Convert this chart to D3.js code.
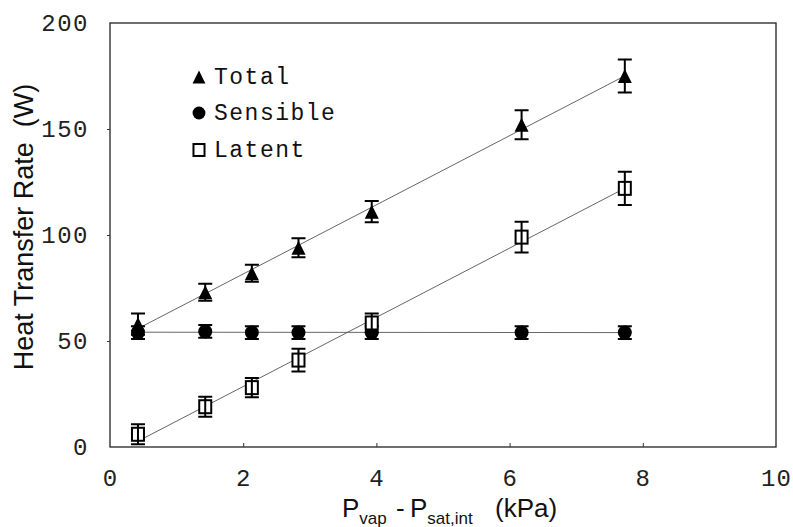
<!DOCTYPE html>
<html>
<head>
<meta charset="utf-8">
<script src="https://cdn.jsdelivr.net/npm/d3@7"></script>
<style>
  html, body { margin: 0; padding: 0; background: #fff; }
  svg { display: block; }
</style>
</head>
<body>
<svg id="chart" width="793" height="527"></svg>
<script>
// Driving pressure difference (kPa)
const pressureDiff = [0.42, 1.43, 2.13, 2.83, 3.93, 6.18, 7.73];
// Heat transfer rates (W) and their uncertainties
const totalRate    = [58, 73, 82, 94, 111, 152, 175];
const totalErr     = [5, 4, 4, 4.5, 5, 6.8, 7.8];
const sensibleRate = [54, 54.5, 54, 54, 54, 54, 54];
const sensibleErr  = [3, 3, 3, 3, 3, 3, 3];
const latentRate   = [6, 19, 28, 41, 58.5, 99, 122];
const latentErr    = [4.7, 4.7, 4.5, 5.4, 4.5, 7.3, 7.8];

const xTicks = [0, 2, 4, 6, 8, 10];
const yTicks = [0, 50, 100, 150, 200];
const legendLabels = ["Total", "Sensible", "Latent"];

const svg = d3.select("#chart");
const plotLeft = 110, plotRight = 776, plotTop = 23, plotBottom = 447;

const x = d3.scaleLinear().domain([0, 10]).range([plotLeft, plotRight]);
const y = d3.scaleLinear().domain([0, 200]).range([plotBottom, plotTop]);

const monoFont = "'Liberation Mono', 'Courier New', monospace";
const sansFont = "'Liberation Sans', Arial, sans-serif";

// Plot frame
svg.append("rect")
  .attr("x", plotLeft).attr("y", plotTop)
  .attr("width", plotRight - plotLeft).attr("height", plotBottom - plotTop)
  .attr("fill", "none").attr("stroke", "#222").attr("stroke-width", 1.3);

// X axis: small inward ticks, monospace labels
const xAxis = svg.append("g")
  .attr("transform", `translate(0,${plotBottom})`)
  .call(d3.axisBottom(x).tickValues(xTicks).tickSize(-4).tickPadding(22)
    .tickFormat(d3.format("d")));
xAxis.select(".domain").remove();
xAxis.selectAll(".tick line").attr("stroke", "#333").attr("stroke-width", 1)
  .filter(d => d === 0 || d === 10).remove();
xAxis.selectAll("text")
  .attr("font-family", monoFont).attr("font-size", 24)
  .attr("fill", "#222").style("letter-spacing", "1px");

// Y axis: small outward ticks
const yAxis = svg.append("g")
  .attr("transform", `translate(${plotLeft},0)`)
  .call(d3.axisLeft(y).tickValues(yTicks).tickSize(3).tickPadding(18)
    .tickFormat(d3.format("d")));
yAxis.select(".domain").remove();
yAxis.selectAll(".tick line").attr("stroke", "#333").attr("stroke-width", 1)
  .filter(d => d === 0 || d === 200).remove();
yAxis.selectAll("text")
  .attr("font-family", monoFont).attr("font-size", 24)
  .attr("fill", "#222").style("letter-spacing", "1.5px");

// Axis titles
svg.append("text")
  .attr("transform", "translate(33,227) rotate(-90)")
  .attr("text-anchor", "middle")
  .attr("font-family", sansFont).attr("font-size", 27).attr("fill", "#111")
  .attr("xml:space", "preserve")
  .text("Heat Transfer Rate  (W)");

const xTitle = svg.append("text")
  .attr("y", 517)
  .attr("font-family", sansFont).attr("font-size", 26).attr("fill", "#111");
xTitle.append("tspan").attr("x", 342).text("P");
xTitle.append("tspan").attr("dy", 7).attr("font-size", 17).text("vap");
xTitle.append("tspan").attr("x", 396).attr("dy", -7).text("-");
xTitle.append("tspan").attr("x", 410).text("P");
xTitle.append("tspan").attr("dy", 7).attr("font-size", 17).text("sat,int");
xTitle.append("tspan").attr("x", 495).attr("dy", -7).text("(kPa)");

// Least-squares fit lines across the measured range
function fitLine(xs, ys) {
  const n = xs.length;
  const mx = d3.mean(xs), my = d3.mean(ys);
  let sxy = 0, sxx = 0;
  for (let i = 0; i < n; i++) {
    sxy += (xs[i] - mx) * (ys[i] - my);
    sxx += (xs[i] - mx) * (xs[i] - mx);
  }
  const b = sxy / sxx, a = my - b * mx;
  const x0 = d3.min(xs), x1 = d3.max(xs);
  return [[x0, a + b * x0], [x1, a + b * x1]];
}

const line = d3.line().x(d => x(d[0])).y(d => y(d[1]));
const seriesList = [
  { name: "Total", values: totalRate, err: totalErr },
  { name: "Sensible", values: sensibleRate, err: sensibleErr },
  { name: "Latent", values: latentRate, err: latentErr }
];

seriesList.forEach(s => {
  svg.append("path")
    .attr("d", line(fitLine(pressureDiff, s.values)))
    .attr("fill", "none").attr("stroke", "#555").attr("stroke-width", 0.9);
});

// Markers
function drawMarker(g, s, cx, cy, scale) {
  if (s.name === "Latent") {
    const w = 12 * scale, h = 13 * scale;
    g.append("rect")
      .attr("x", cx - w / 2).attr("y", cy - h / 2)
      .attr("width", w).attr("height", h)
      .attr("fill", "#fff").attr("stroke", "#000").attr("stroke-width", 2);
  } else if (s.name === "Total") {
    const w = 14 * scale, h = 14 * scale;
    g.append("path")
      .attr("d", `M${cx},${cy - h / 2}L${cx + w / 2},${cy + h / 2}L${cx - w / 2},${cy + h / 2}Z`)
      .attr("fill", "#000");
  } else {
    g.append("circle").attr("cx", cx).attr("cy", cy).attr("r", 7 * scale).attr("fill", "#000");
  }
}

const marks = svg.append("g");
seriesList.forEach(s => {
  const g = marks.append("g");
  s.values.forEach((v, i) => {
    drawMarker(g, s, x(pressureDiff[i]), y(v), 1);
  });
  // Error bars with caps
  s.values.forEach((v, i) => {
    const cx = x(pressureDiff[i]);
    const yHi = y(v + s.err[i]), yLo = y(v - s.err[i]);
    const capW = 7;
    g.append("path")
      .attr("d", `M${cx},${yHi}V${yLo}M${cx - capW},${yHi}H${cx + capW}M${cx - capW},${yLo}H${cx + capW}`)
      .attr("fill", "none").attr("stroke", "#000").attr("stroke-width", 2);
  });
});

// Legend
const legend = svg.append("g");
const legendY = [77, 113, 150];
seriesList.forEach((s, i) => {
  drawMarker(legend, s, 199, legendY[i], 0.92);
  legend.append("text")
    .attr("x", 214).attr("y", legendY[i] + 7)
    .attr("font-family", monoFont).attr("font-size", 23)
    .attr("fill", "#111").style("letter-spacing", "1.5px")
    .text(legendLabels[i]);
});
</script>
</body>
</html>
